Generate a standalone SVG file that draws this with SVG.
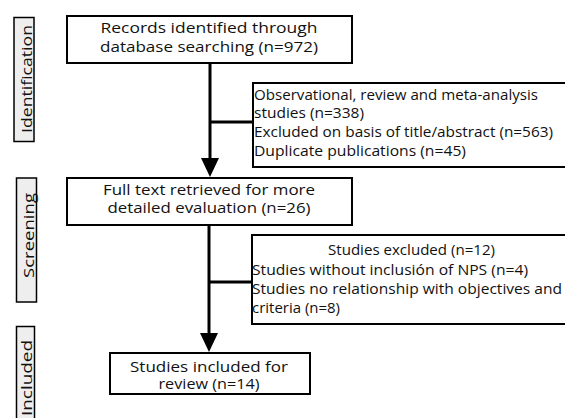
<svg xmlns="http://www.w3.org/2000/svg" width="565" height="418" viewBox="0 0 565 418">
<style>
.box{fill:#ffffff;stroke:#000000;stroke-width:2}
.side{fill:#eeeeee;stroke:#000000;stroke-width:1.5}
.t{font-family:"Open Sans","DejaVu Sans","Liberation Sans",sans-serif;font-size:14px;fill:#111111}
.s{font-family:"Open Sans","DejaVu Sans","Liberation Sans",sans-serif;font-size:15px;fill:#111111}
.c{stroke:#000000;stroke-width:3;fill:none}
.h{fill:#000000}
</style>
<rect width="565" height="418" fill="#ffffff"/>
<g id="phase-identification">
<rect class="side" x="14" y="17.5" width="20" height="124"/>
<text class="s" transform="translate(31.5,79) rotate(-90)" text-anchor="middle" textLength="108" lengthAdjust="spacingAndGlyphs">Identification</text>
</g>
<g id="phase-screening">
<rect class="side" x="16.5" y="178" width="20" height="124"/>
<text class="s" transform="translate(33.5,235.5) rotate(-90)" text-anchor="middle" textLength="85" lengthAdjust="spacingAndGlyphs">Screening</text>
</g>
<g id="phase-included">
<rect class="side" x="16.5" y="326.5" width="18" height="100"/>
<text class="s" transform="translate(32,378) rotate(-90)" text-anchor="middle" textLength="76" lengthAdjust="spacingAndGlyphs">Included</text>
</g>
<g id="connectors">
<line class="c" x1="210" y1="63" x2="210" y2="160"/>
<polygon class="h" points="201,158 219,158 210,177"/>
<line class="c" x1="210" y1="122" x2="253" y2="122"/>
<line class="c" x1="209" y1="225" x2="209" y2="335"/>
<polygon class="h" points="200,333 218,333 209,352"/>
<line class="c" x1="209" y1="282" x2="252" y2="282"/>
</g>
<g id="records">
<rect class="box" x="67" y="16" width="285" height="47"/>
<text class="t" x="209" y="33" text-anchor="middle" textLength="217" lengthAdjust="spacingAndGlyphs">Records identified through</text>
<text class="t" x="209" y="52" text-anchor="middle" textLength="218" lengthAdjust="spacingAndGlyphs">database searching (n=972)</text>
</g>
<g id="excluded-1">
<rect class="box" x="253" y="83" width="320" height="84"/>
<text class="t" x="254" y="100" textLength="284" lengthAdjust="spacingAndGlyphs">Observational, review and meta-analysis</text>
<text class="t" x="254" y="118" textLength="110" lengthAdjust="spacingAndGlyphs">studies (n=338)</text>
<text class="t" x="254" y="137" textLength="299" lengthAdjust="spacingAndGlyphs">Excluded on basis of title/abstract (n=563)</text>
<text class="t" x="254" y="156" textLength="212" lengthAdjust="spacingAndGlyphs">Duplicate publications (n=45)</text>
</g>
<g id="fulltext">
<rect class="box" x="67" y="178" width="285" height="47"/>
<text class="t" x="209" y="195" text-anchor="middle" textLength="212" lengthAdjust="spacingAndGlyphs">Full text retrieved for more</text>
<text class="t" x="209" y="213" text-anchor="middle" textLength="203" lengthAdjust="spacingAndGlyphs">detailed evaluation (n=26)</text>
</g>
<g id="excluded-2">
<rect class="box" x="252" y="235" width="320" height="89"/>
<text class="t" x="411.5" y="255" text-anchor="middle" textLength="167" lengthAdjust="spacingAndGlyphs">Studies excluded (n=12)</text>
<text class="t" x="252" y="275" textLength="276" lengthAdjust="spacingAndGlyphs">Studies without inclusión of NPS (n=4)</text>
<text class="t" x="252" y="294" textLength="310" lengthAdjust="spacingAndGlyphs">Studies no relationship with objectives and</text>
<text class="t" x="252" y="313" textLength="88" lengthAdjust="spacingAndGlyphs">criteria (n=8)</text>
</g>
<g id="included">
<rect class="box" x="110" y="353" width="200" height="41"/>
<text class="t" x="209" y="372" text-anchor="middle" textLength="158" lengthAdjust="spacingAndGlyphs">Studies included for</text>
<text class="t" x="209" y="389" text-anchor="middle" textLength="101" lengthAdjust="spacingAndGlyphs">review (n=14)</text>
</g>
</svg>
